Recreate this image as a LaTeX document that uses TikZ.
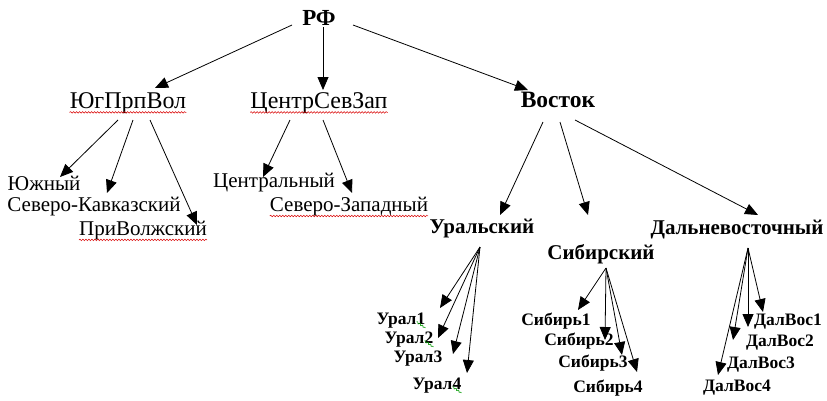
\documentclass[tikz,border=0pt]{standalone}
\usepackage{fontspec}
\setmainfont{Liberation Serif}
\usetikzlibrary{arrows.meta,decorations.pathmorphing}
\begin{document}
\begin{tikzpicture}[x=1pt,y=-1pt,
  lbl/.style={inner sep=0pt, font=\fontsize{21}{23}\selectfont},
  mid/.style={inner sep=0pt, font=\fontsize{24}{26}\selectfont},
  bl/.style={inner sep=0pt, font=\fontsize{21}{23}\selectfont\bfseries},
  bigb/.style={inner sep=0pt, font=\fontsize{23.5}{26}\selectfont\bfseries},
  top/.style={inner sep=0pt, font=\fontsize{23}{26}\selectfont\bfseries},
  sm/.style={inner sep=0pt, font=\fontsize{17.5}{19}\selectfont\bfseries},
  arr/.style={-{Triangle[length=13pt,width=11pt]}, line width=0.8pt},
  wavy/.style={red!85!black, line width=0.5pt, decorate, decoration={snake, amplitude=0.8pt, segment length=3pt}},
  gwavy/.style={green!60!black, line width=0.6pt, decorate, decoration={snake, amplitude=0.8pt, segment length=3pt}}
]
\useasboundingbox (0,0) rectangle (827,400);
% nodes
\node[top] (rf) at (319,18) {РФ};
\node[mid] (ypv) at (128,103) {ЮгПрпВол};
\node[mid] (csz) at (319,103) {ЦентрСевЗап};
\node[bigb] (vost) at (558,100) {Восток};
\node[lbl] (yuzh) at (44,183) {Южный};
\node[lbl] (sk) at (94,207) {Северо-Кавказский};
\node[lbl] (pv) at (143,231) {ПриВолжский};
\node[lbl] (centr) at (274,183) {Центральный};
\node[lbl] (sz) at (349,207) {Северо-Западный};
\node[bl] (ural) at (482,228) {Уральский};
\node[bl] (sib) at (601,254) {Сибирский};
\node[bl] (dv) at (737,230) {Дальневосточный};
\node[sm] (u1) at (401,321) {Урал1};
\node[sm] (u2) at (409,340) {Урал2};
\node[sm] (u3) at (418,359) {Урал3};
\node[sm] (u4) at (437,386) {Урал4};
\node[sm] (s1) at (556,321) {Сибирь1};
\node[sm] (s2) at (579,341) {Сибирь2};
\node[sm] (s3) at (593,363) {Сибирь3};
\node[sm] (s4) at (608,388) {Сибирь4};
\node[sm] (d1) at (788,322) {ДалВос1};
\node[sm] (d2) at (780,343) {ДалВос2};
\node[sm] (d3) at (761,365) {ДалВос3};
\node[sm] (d4) at (737,388) {ДалВос4};
% arrows level 1
\draw[arr] ([shift={(-27,7)}]rf.center) -- ([shift={(27,-15)}]ypv.center);
\draw[arr] ([shift={(4,9)}]rf.center) -- ([shift={(4,-13)}]csz.center);
\draw[arr] ([shift={(34,7)}]rf.center) -- ([shift={(-30,-10)}]vost.center);
% level 2
\draw[arr] ([shift={(-10,17)}]ypv.center) -- ([shift={(16,-6)}]yuzh.center);
\draw[arr] ([shift={(5,17)}]ypv.center) -- ([shift={(13,-14)}]sk.center);
\draw[arr] ([shift={(22,17)}]ypv.center) -- ([shift={(54,-6)}]pv.center);
\draw[arr] ([shift={(-29,17)}]csz.center) -- ([shift={(-11,-6)}]centr.center);
\draw[arr] ([shift={(4,17)}]csz.center) -- ([shift={(3,-14)}]sz.center);
\draw[arr] ([shift={(-15,22)}]vost.center) -- ([shift={(18,-13)}]ural.center);
\draw[arr] ([shift={(2,22)}]vost.center) -- ([shift={(-13,-39)}]sib.center);
\draw[arr] ([shift={(17,20)}]vost.center) -- ([shift={(21,-15)}]dv.center);
% level 3
\draw[arr] ([shift={(-2,19)}]ural.center) -- ([shift={(39,-13)}]u1.center);
\draw[arr] ([shift={(-2,19)}]ural.center) -- ([shift={(29,-2)}]u2.center);
\draw[arr] ([shift={(-2,19)}]ural.center) -- ([shift={(35,-5)}]u3.center);
\draw[arr] ([shift={(-2,19)}]ural.center) -- ([shift={(30,-13)}]u4.center);
\draw[arr] ([shift={(5,14)}]sib.center) -- ([shift={(22,-11)}]s1.center);
\draw[arr] ([shift={(5,14)}]sib.center) -- ([shift={(26,-1)}]s2.center);
\draw[arr] ([shift={(5,14)}]sib.center) -- ([shift={(29,-8)}]s3.center);
\draw[arr] ([shift={(5,14)}]sib.center) -- ([shift={(29,-16)}]s4.center);
\draw[arr] ([shift={(11,18)}]dv.center) -- ([shift={(-25,-10)}]d1.center);
\draw[arr] ([shift={(11,18)}]dv.center) -- ([shift={(-32,-16)}]d2.center);
\draw[arr] ([shift={(11,18)}]dv.center) -- ([shift={(-28,-25)}]d3.center);
\draw[arr] ([shift={(11,18)}]dv.center) -- ([shift={(-19,-13)}]d4.center);
% spell-check underlines
\draw[wavy] ([yshift=-4pt]ypv.base west) -- ([yshift=-4pt]ypv.base east);
\draw[wavy] ([yshift=-4pt]csz.base west) -- ([yshift=-4pt]csz.base east);
\draw[wavy] ([yshift=-4pt]pv.base west) -- ([yshift=-4pt]pv.base east);
\draw[wavy] ([yshift=-4pt]sz.base west) -- ([yshift=-4pt]sz.base east);
\draw[gwavy] ([shift={(-9,-3)}]u1.base east) -- ([yshift=-3pt]u1.base east);
\draw[gwavy] ([shift={(-9,-3)}]u2.base east) -- ([yshift=-3pt]u2.base east);
\draw[gwavy] ([shift={(-9,-3)}]u4.base east) -- ([yshift=-3pt]u4.base east);
\end{tikzpicture}
\end{document}
